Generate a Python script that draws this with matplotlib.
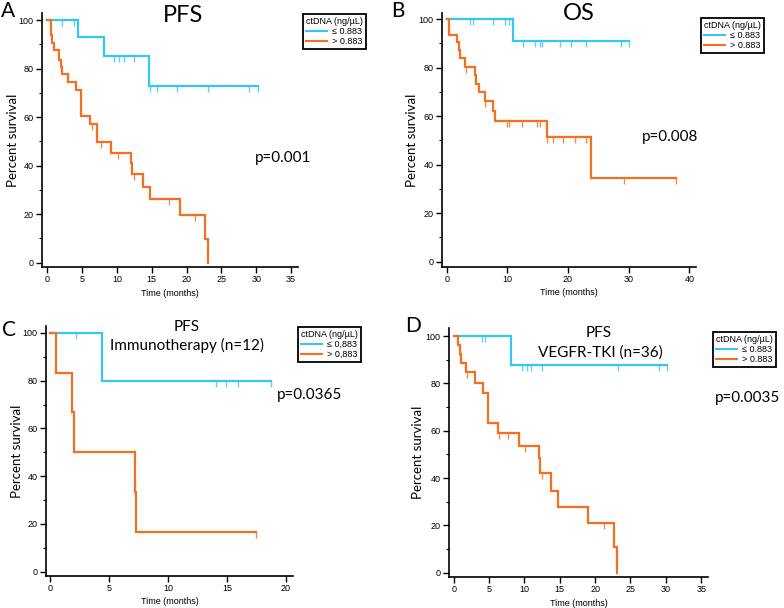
import numpy as np
import matplotlib
matplotlib.use("Agg")
import matplotlib.pyplot as plt
from matplotlib.lines import Line2D
from matplotlib.path import Path

# ---- data (time in months, survival in %) ----
# step = (time of drop, survival after drop); end = last follow-up; cens = censor marks
a_low_t = [4.4, 8.1, 14.6]
a_low_s = [92.9, 85.2, 72.9]
a_low_end = 30.2
a_low_cens = [2.1, 3.9, 9.6, 10.3, 11.0, 12.5, 14.8, 15.8, 18.6, 23.1, 29.0, 30.2]
a_high_t = [0.5, 0.7, 1.0, 1.7, 1.9, 2.1, 3.0, 4.1, 4.8, 4.9, 6.2, 7.2, 9.1,
            12.0, 12.2, 13.7, 14.7, 19.1, 22.6, 23.1]
a_high_s = [93.8, 90.4, 87.6, 83.5, 80.8, 77.6, 74.4, 71.1, 64.3, 60.5, 57.1,
            49.6, 45.3, 40.9, 36.4, 31.2, 26.1, 19.6, 9.7, 0]
a_high_end = 23.1
a_high_cens = [6.4, 7.7, 10.2, 12.4, 17.5, 21.2]

b_low_t = [10.9]
b_low_s = [90.9]
b_low_end = 30.1
b_low_cens = [3.9, 4.3, 7.7, 9.6, 10.3, 12.5, 14.6, 15.4, 15.7, 18.6, 20.5,
              23.0, 28.8, 30.1]
b_high_t = [0.45, 1.7, 2.0, 2.15, 3.1, 4.6, 4.8, 5.4, 6.3, 7.7, 7.95, 16.5, 23.8]
b_high_s = [93.6, 90.4, 87.2, 83.8, 80.3, 76.9, 73.4, 69.8, 66.2, 62.2, 58.0,
            51.4, 34.3]
b_high_end = 37.8
b_high_cens = [3.2, 6.4, 9.9, 10.2, 12.4, 14.9, 15.4, 16.6, 17.5, 19.1, 21.1,
               23.0, 29.3, 37.8]

c_low_t = [4.45]
c_low_s = [80.0]
c_low_end = 18.7
c_low_cens = [2.2, 14.1, 14.9, 15.9, 18.7]
c_high_t = [0.5, 1.85, 2.05, 7.2, 7.3]
c_high_s = [83.3, 66.7, 50.0, 33.3, 16.7]
c_high_end = 17.5
c_high_cens = [17.5]

d_low_t = [8.05]
d_low_s = [87.6]
d_low_end = 30.2
d_low_cens = [3.95, 4.5, 9.6, 10.4, 11.0, 12.5, 23.2, 29.1, 30.2]
d_high_t = [0.6, 0.85, 1.1, 1.8, 3.0, 4.1, 4.8, 4.9, 6.2, 9.2, 12.05, 12.2,
            13.8, 14.7, 19.05, 22.65, 23.15]
d_high_s = [96.2, 92.3, 88.5, 84.8, 80.3, 76.1, 67.0, 63.1, 58.9, 53.7, 48.3,
            42.0, 34.7, 27.9, 20.9, 10.7, 0]
d_high_end = 23.15
d_high_cens = [1.9, 6.4, 7.7, 10.15, 12.5, 21.2]

group_labels = ["\u2264 0.883", "> 0.883"]
group_labels_c = ["\u2264 0,883", "> 0,883"]
legend_title = "ctDNA (ng/\u00b5L)"

CYAN = "#36C6F2"
ORANGE = "#F5701E"
W, H = 784, 608
ARIAL = ["Liberation Sans", "DejaVu Sans"]
CALIBRI = ["Lato", "DejaVu Sans"]

plt.rcParams["font.family"] = ARIAL

fig = plt.figure(figsize=(W / 100, H / 100), dpi=100)

# censor tick hanging below the curve
cens_marker = Path([(0, 0), (0, -1)])


def px(x, y):
    return x / W, 1 - y / H


def km(ax, t, s, end, cens, color):
    tt = np.r_[0, t, end]
    ss = np.r_[100, s, s[-1]]
    ax.step(tt, ss, where="post", color=color, lw=1.6, solid_joinstyle="miter")
    cens = np.asarray(cens)
    idx = np.searchsorted(np.asarray(t), cens, side="right")
    cy = np.r_[100, s][idx]
    ax.plot(cens, cy, ls="none", marker=cens_marker, ms=8, mew=1.0,
            color=color, alpha=0.8)


def panel(box, xlim, ylim, xticks, curves, labels, letter, letter_xy,
          title, pval, pval_xy, leg_xy, ylab_x, xlab_y):
    l, t, r, b = box
    x0, y0 = px(l, b)
    ax = fig.add_axes([x0, y0, (r - l) / W, (b - t) / H])
    for c, col in zip(curves, [CYAN, ORANGE]):
        km(ax, *c, col)
    ax.set_xlim(*xlim)
    ax.set_ylim(*ylim)
    ax.set_xticks(xticks)
    ax.set_yticks(np.arange(0, 101, 20))
    ax.set_yticks(np.arange(10, 100, 20), minor=True)
    for sp in ["top", "right"]:
        ax.spines[sp].set_visible(False)
    for sp in ["left", "bottom"]:
        ax.spines[sp].set_linewidth(1.2)
    ax.tick_params(which="major", direction="out", length=4, width=1,
                   labelsize=6.5, pad=2)
    ax.tick_params(which="minor", direction="out", length=2.5, width=0.8)

    handles = [Line2D([], [], color=CYAN, lw=1.5),
               Line2D([], [], color=ORANGE, lw=1.5)]
    leg = ax.legend(handles, labels, title=legend_title, loc="upper left",
                    bbox_to_anchor=px(*leg_xy), bbox_transform=fig.transFigure,
                    borderaxespad=0, fancybox=False, edgecolor="black",
                    fontsize=6.5, title_fontsize=6.5, handlelength=2.3,
                    handletextpad=0.6, borderpad=0.35, labelspacing=0.1,
                    alignment="left", framealpha=1)
    leg.get_frame().set_linewidth(1.3)

    fig.text(*px(*letter_xy), letter, family=CALIBRI, fontsize=15,
             ha="left", va="top")
    for txt, (tx, ty), fs in title:
        fig.text(*px(tx, ty), txt, family=CALIBRI, fontsize=fs,
                 ha="center", va="center")
    fig.text(*px(*pval_xy), pval, family=CALIBRI, fontsize=11,
             ha="left", va="center")
    fig.text(*px(ylab_x, (t + b) / 2), "Percent survival", family=CALIBRI,
             fontsize=9.5, rotation=90, ha="center", va="center")
    fig.text(*px((l + r) / 2, xlab_y), "Time (months)", fontsize=6.5,
             ha="center", va="center")
    return ax


panel((42, 13, 298, 267), (-0.76, 36.0), (-1.77, 102.9), range(0, 36, 5),
      [(a_low_t, a_low_s, a_low_end, a_low_cens),
       (a_high_t, a_high_s, a_high_end, a_high_cens)],
      group_labels, "A", (1, 1),
      [("PFS", (183, 15), 17)], "p=0.001", (255, 158), (302.7, 14), 13, 294)

panel((441.7, 13, 695.7, 266.7), (-0.82, 41.05), (-2.06, 102.5),
      range(0, 41, 10),
      [(b_low_t, b_low_s, b_low_end, b_low_cens),
       (b_high_t, b_high_s, b_high_end, b_high_cens)],
      group_labels, "B", (391, 1),
      [("OS", (579, 14), 17)], "p=0.008", (641.7, 137), (700.7, 18), 411.7, 293)

panel((45.7, 326, 293.3, 576), (-0.36, 20.62), (-1.8, 102.9), range(0, 21, 5),
      [(c_low_t, c_low_s, c_low_end, c_low_cens),
       (c_high_t, c_high_s, c_high_end, c_high_cens)],
      group_labels_c, "C", (2, 320),
      [("PFS", (187, 327), 11), ("Immunotherapy (n=12)", (187, 345), 11)],
      "p=0.0365", (276.7, 395), (297.7, 327), 16.7, 601.7)

panel((449, 328, 708.3, 576.7), (-0.66, 36.0), (-1.7, 103.4), range(0, 36, 5),
      [(d_low_t, d_low_s, d_low_end, d_low_cens),
       (d_high_t, d_high_s, d_high_end, d_high_cens)],
      group_labels, "D", (405, 316),
      [("PFS", (599, 333), 11), ("VEGFR-TKI (n=36)", (600, 353), 11)],
      "p=0.0035", (715, 398), (713, 332), 418, 603)

fig.savefig("out.png", dpi=100)
